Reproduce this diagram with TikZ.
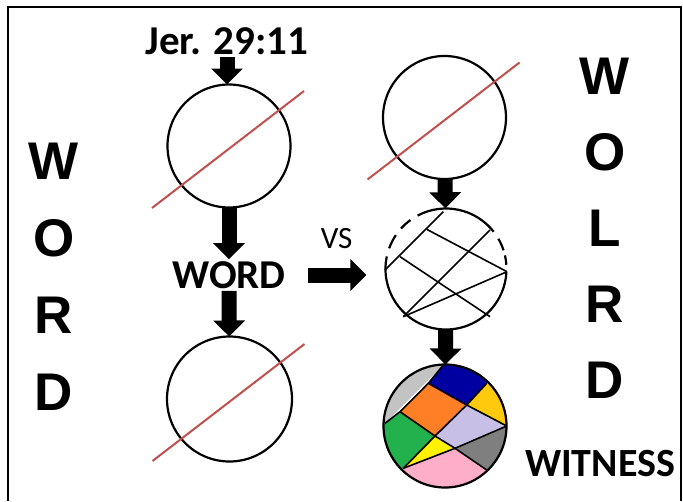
\documentclass[tikz,border=0pt]{standalone}
\usepackage{fontspec}
\setmainfont{Carlito}
\newfontfamily\arialfont{Liberation Sans}
\usetikzlibrary{arrows.meta,calc}
\definecolor{slashred}{RGB}{192,80,77}
\definecolor{silverc}{HTML}{C3C3C3}
\definecolor{navyc}{HTML}{0000A0}
\definecolor{goldc}{HTML}{FFC90E}
\definecolor{orangec}{HTML}{FF7F27}
\definecolor{lavc}{HTML}{C8BFE7}
\definecolor{greenc}{HTML}{22B14C}
\definecolor{yellowc}{HTML}{FFF200}
\definecolor{grayc}{HTML}{7F7F7F}
\definecolor{pinkc}{HTML}{FFAEC9}
\begin{document}
\begin{tikzpicture}[x=1pt,y=-1pt,
    every node/.style={inner sep=2pt},
    ring/.style={circle,draw,line width=2.2pt,inner sep=0pt,outer sep=0pt},
    blockarrow/.style={line width=15pt,-{Triangle[width=31pt,length=16pt]}},
    slash/.style={draw=slashred,line width=2pt},
    cross/.style={line width=1.6pt},
    bigletter/.style={font=\arialfont\bfseries\fontsize{53}{53}\selectfont},
    caption/.style={font=\bfseries\fontsize{40}{40}\selectfont}]
    \useasboundingbox (0,0) rectangle (683,501);
    \draw[line width=2pt] (8,501) -- (8,7) -- (681,7) -- (681,501);
    \foreach \ch [count=\i] in {W,O,R,D}
        \node[bigletter] (lw\i) at (54,84+77*\i) {\ch};
    \foreach \ch [count=\i] in {W,O,L,R,D}
        \node[bigletter] (rw\i) at (605,76*\i) {\ch};
    \node[caption,font=\bfseries\fontsize{41}{41}\selectfont] (jer) at (227,41) {Jer. 29:11};
    \node[ring,minimum size=123pt] (c1) at (229,146) {};
    \node[caption,font=\bfseries\fontsize{41}{41}\selectfont] (word) at (229,275) {WORD};
    \node[ring,minimum size=125pt] (c2) at (229.5,399) {};
    \node[ring,minimum size=123pt] (c3) at (444.5,117.5) {};
    \node[circle,inner sep=0pt,minimum size=121pt] (c4) at (446,269) {};
    \foreach \c in {c1,c2,c3}
        \draw[slash] ($(\c)+(-77,62)$) -- ($(\c)+(75,-55)$);
    \begin{scope}[shift={(446,269)}]
        \foreach \a/\b in {168/357,4/13,18/30,38/118,126/138,146/160}
            \draw[line width=2.2pt] (\a:60.5pt) arc[start angle=\a,end angle=\b,radius=60.5pt];
        \draw[cross] (-2.7,-57.3) -- (-61,1);
        \draw[cross] (-19.3,-39.7) -- (61,2.7);
        \draw[cross] (44,-39) -- (-42.7,47.7);
        \draw[cross] (-46,-12.3) -- (44,47.7);
        \draw[cross] (-42.7,47.7) -- (61,2.7);
    \end{scope}
    \begin{scope}[shift={(445,426)}]
        \coordinate (t) at (-1.7,-61);
        \coordinate (lft) at (-60,-2.7);
        \coordinate (q1) at (-16.7,-42.7);
        \coordinate (q2) at (-45,-14.3);
        \coordinate (r) at (61.7,0);
        \coordinate (q3) at (41.7,-42.7);
        \coordinate (x24) at (21.7,-21);
        \coordinate (x34) at (-10,10);
        \coordinate (b4) at (-41.7,42.3);
        \coordinate (x35) at (10,22.3);
        \coordinate (e3) at (41.7,44);
        \begin{scope}
            \clip (0,0) circle[radius=62pt];
            \fill[silverc] (t) -- (lft) -- (-100,-3) -- (-100,-100) -- (-2,-100) -- cycle;
            \fill[navyc] (q1) -- (t) -- (-2,-100) -- (83,-85) -- (q3) -- (x24) -- cycle;
            \fill[goldc] (x24) -- (q3) -- (83,-85) -- (100,0) -- (r) -- cycle;
            \fill[orangec] (q2) -- (q1) -- (x24) -- (x34) -- cycle;
            \fill[lavc] (x24) -- (r) -- (x35) -- (x34) -- cycle;
            \fill[greenc] (lft) -- (q2) -- (x34) -- (b4) -- (-83,85) -- (-100,-3) -- cycle;
            \fill[yellowc] (x34) -- (x35) -- (b4) -- cycle;
            \fill[grayc] (x35) -- (r) -- (100,0) -- (83,88) -- (e3) -- cycle;
            \fill[pinkc] (b4) -- (x35) -- (e3) -- (83,88) -- (0,100) -- (-83,85) -- cycle;
        \end{scope}
        \draw[cross] (t) -- (q1) -- (q2) -- (lft);
        \draw[cross] (q1) -- (x24) -- (r);
        \draw[cross] (q2) -- (x34) -- (x35) -- (e3);
        \draw[cross] (q3) -- (x24) -- (x34) -- (b4);
        \draw[cross] (b4) -- (x35) -- (r);
    \end{scope}
    \node[ring,minimum size=123pt] (c5) at (445,426) {};
    \node[caption,font=\bfseries\fontsize{40}{40}\selectfont] (witness) at (600,464) {WITNESS};
    \draw[blockarrow] (jer) -- (jer |- c1.north);
    \draw[blockarrow] (c1) -- (word);
    \draw[blockarrow] (word) -- (c2);
    \draw[blockarrow] (c3) -- (c4);
    \draw[blockarrow] (c4) -- (c5);
    \draw[blockarrow,shorten <=20pt,shorten >=19pt] (word) -- (word -| c4.west)
        node[midway,above=17pt,font=\fontsize{31}{31}\selectfont] (vs) {VS};
\end{tikzpicture}
\end{document}
